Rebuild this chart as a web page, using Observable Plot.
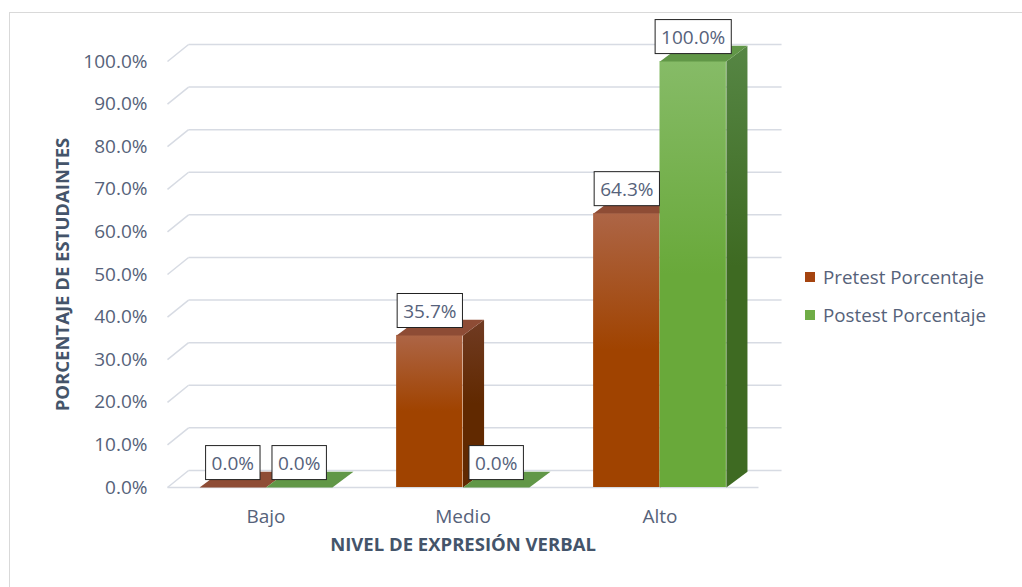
<!DOCTYPE html>
<html><head><meta charset="utf-8">
<script src="https://cdn.jsdelivr.net/npm/d3@7"></script>
<script src="https://cdn.jsdelivr.net/npm/@observablehq/plot@0.6"></script>
<style>
body{margin:0;background:#fff;font-family:'Open Sans',sans-serif;}
#wrap{position:relative;width:1022px;height:587px;overflow:hidden;background:#fff;}
#frame{position:absolute;left:9px;top:12px;width:1100px;height:700px;border:1px solid #d9d9d9;box-sizing:border-box;}
#chart{position:absolute;left:0;top:0;}
#legend{position:absolute;left:805px;top:262px;color:#56627a;font-size:18.8px;font-family:'Open Sans',sans-serif;}
#legend .item{display:flex;align-items:center;height:29px;margin-bottom:9px;white-space:nowrap;}
#legend .sw{width:10px;height:10px;margin-right:8px;}
</style>
</head><body>
<div id="wrap"><div id="frame"></div><div id="chart"></div><div id="legend"></div></div>
<script>
const categories = ["Bajo", "Medio", "Alto"];
const seriesNames = ["Pretest Porcentaje", "Postest Porcentaje"];
const pretest = [0.0, 35.7, 64.3];
const postest = [0.0, 0.0, 100.0];
const yTicks = [0, 10, 20, 30, 40, 50, 60, 70, 80, 90, 100];
const xTitle = "NIVEL DE EXPRESIÓN VERBAL";
const yTitle = "PORCENTAJE DE ESTUDAINTES";
const legendColors = ["#A5440F", "#70AD47"];

const W = 0.337, DX = 0.107, DY = 3.7, DXW = 0.107, DYW = 4.0;
const textColor = "#56627a";
const labelColor = "#56627b";
const gridColor = "#d7dbe3";

const bars = [];
[pretest, postest].forEach((vals, j) => {
  vals.forEach((v, i) => {
    const c = i + 0.5;
    bars.push({cat: categories[i], s: j, v, x1: j === 0 ? c - W : c, x2: j === 0 ? c : c + W});
  });
});
const pre = bars.filter(b => b.s === 0), post = bars.filter(b => b.s === 1);
const topPts = bs => bs.flatMap((b, k) => [[b.x1, b.v], [b.x2, b.v], [b.x2 + DX, b.v + DY], [b.x1 + DX, b.v + DY]].map(([x, y]) => ({id: k, x, y})));
const sidePts = bs => bs.flatMap((b, k) => [[b.x2, 0], [b.x2, b.v], [b.x2 + DX, b.v + DY], [b.x2 + DX, DY]].map(([x, y]) => ({id: k, x, y})));

function seriesMarks(bs, key) {
  return [
    Plot.rect(bs, {x1: "x1", x2: "x2", y1: 0, y2: "v", fill: `url(#${key}Front)`}),
    Plot.line(sidePts(bs), {x: "x", y: "y", z: "id", fill: `url(#${key}Side)`, stroke: "none", curve: "linear-closed"}),
    Plot.line(topPts(bs), {x: "x", y: "y", z: "id", fill: key === "pre" ? "#8e4c35" : "#619747", stroke: "none", curve: "linear-closed"})
  ];
}

const chart = Plot.plot({
  width: 1022, height: 587,
  marginLeft: 167, marginRight: 264, marginTop: 61, marginBottom: 100,
  style: {background: "transparent", fontFamily: "'Open Sans', sans-serif"},
  x: {type: "linear", domain: [0, 3], axis: null},
  y: {type: "linear", domain: [0, 100], axis: null},
  marks: [
    Plot.link(yTicks, {x1: DXW, x2: 3 + DXW + 0.01, y1: d => d + DYW, y2: d => d + DYW, stroke: gridColor, strokeWidth: 1.5}),
    Plot.link(yTicks, {x1: 0, x2: DXW, y1: d => d, y2: d => d + DYW, stroke: gridColor, strokeWidth: 1.5}),
    Plot.link([0], {x1: 0, x2: 3, y1: 0, y2: 0, stroke: gridColor, strokeWidth: 1.5}),
    Plot.text(yTicks, {x: 0, y: d => d, dx: -20, textAnchor: "end", text: d => d.toFixed(1) + "%", fill: textColor, fontSize: 19}),
    ...seriesMarks(pre, "pre"),
    ...seriesMarks(post, "post"),
    Plot.text(bars, {x: d => (d.x1 + d.x2) / 2, y: "v", dy: -24, text: d => d.v.toFixed(1) + "%", fill: labelColor, fontSize: 19}),
    Plot.text(categories.map((c, i) => ({c, xc: i + 0.5})), {x: "xc", y: 0, dy: 29, text: "c", fill: textColor, fontSize: 19}),
    Plot.text([xTitle], {frameAnchor: "bottom", dy: 63, text: d => d, fill: "#44546A", fontSize: 18.5, fontWeight: "bold"}),
    Plot.text([yTitle], {frameAnchor: "left", dx: -104, rotate: -90, textAnchor: "middle", text: d => d, fill: "#44546A", fontSize: 18.5, fontWeight: "bold"})
  ]
});
document.getElementById("chart").appendChild(chart);

// gradients
const NS = "http://www.w3.org/2000/svg";
const defs = document.createElementNS(NS, "defs");
const grads = {
  preFront: ["#ad6546", "#a04300"],
  preSide: ["#703b23", "#612900"],
  postFront: ["#86bb67", "#69a93a"],
  postSide: ["#568644", "#3e6a22"]
};
for (const [id, [a, b]] of Object.entries(grads)) {
  const g = document.createElementNS(NS, "linearGradient");
  g.setAttribute("id", id); g.setAttribute("x1", "0"); g.setAttribute("y1", "0"); g.setAttribute("x2", "0"); g.setAttribute("y2", "1");
  [[0, a], [0.5, b], [1, b]].forEach(([o, c]) => {
    const s = document.createElementNS(NS, "stop");
    s.setAttribute("offset", o); s.setAttribute("stop-color", c); g.appendChild(s);
  });
  defs.appendChild(g);
}
chart.insertBefore(defs, chart.firstChild);

// boxes behind value labels
const labelTexts = Array.from(chart.querySelectorAll("text")).filter(t => {
  const own = t.getAttribute("fill");
  const par = t.parentNode && t.parentNode.getAttribute && t.parentNode.getAttribute("fill");
  return own === labelColor || par === labelColor;
});
labelTexts.forEach(t => {
  const bb = t.getBBox();
  const r = document.createElementNS(NS, "rect");
  const h = 34;
  r.setAttribute("x", bb.x - 6);
  r.setAttribute("y", bb.y + bb.height / 2 - h / 2);
  r.setAttribute("width", bb.width + 12);
  r.setAttribute("height", h);
  r.setAttribute("fill", "#fff");
  r.setAttribute("stroke", "#222");
  r.setAttribute("stroke-width", "1");
  if (t.getAttribute("transform")) r.setAttribute("transform", t.getAttribute("transform"));
  t.parentNode.insertBefore(r, t);
});

// legend
const legend = document.getElementById("legend");
seriesNames.forEach((n, i) => {
  const it = document.createElement("div"); it.className = "item";
  const sw = document.createElement("div"); sw.className = "sw"; sw.style.background = legendColors[i];
  const tx = document.createElement("span"); tx.textContent = n;
  it.appendChild(sw); it.appendChild(tx); legend.appendChild(it);
});
</script>
</body></html>
